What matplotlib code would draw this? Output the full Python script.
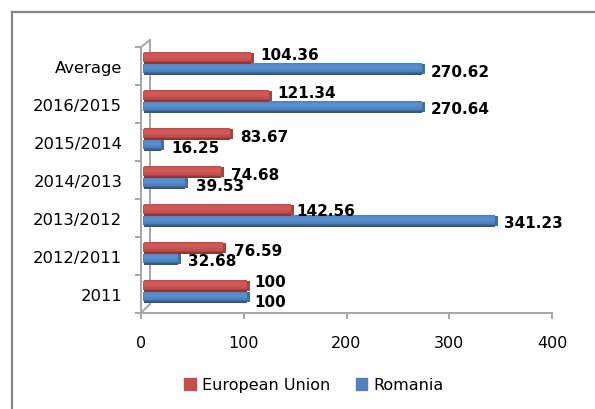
import matplotlib
matplotlib.use('Agg')
import matplotlib.pyplot as plt
from matplotlib.lines import Line2D
from matplotlib.patches import Patch
from matplotlib.colors import to_rgb
import numpy as np

categories = ['2011', '2012/2011', '2013/2012', '2014/2013', '2015/2014', '2016/2015', 'Average']
european_union = [100, 76.59, 142.56, 74.68, 83.67, 121.34, 104.36]
romania = [100, 32.68, 341.23, 39.53, 16.25, 270.64, 270.62]
x_ticks = [0, 100, 200, 300, 400]

W, H = 595, 410
GREY = '#a6a6a6'
RED = '#c0504d'
BLUE = '#4f81bd'

# label nudges in pixels (x from bar end, y downwards from bar centre)
eu_nudge = [(4, -4), (8, 3), (3, 1), (7, 3), (7, 3), (5, -3), (6, -3)]
ro_nudge = [(4, 5), (7, 2), (6, 2), (8, 3), (7, 3), (6, 2), (6, 3)]


def shades(base, dark):
    # top edge, bright middle, dark lower edge of the cylinder look
    c = np.array(to_rgb(base))
    d = np.array(to_rgb(dark))
    light = np.minimum(c * 1.1, 1)
    mid = (c + light) / 2
    return [c, mid, light, light, light, light, mid, c, c, (c + d) / 2, d]


def cylinder(ax, pos, vals, base, dark, nudges, start=3, cap=3, h=0.3):
    cols = shades(base, dark)
    n = len(cols)
    step = h / n
    ends = np.array(vals) + start
    # base bar first so no seams show through the strips
    ax.barh(pos, vals, height=h, left=start, color=base, linewidth=0, zorder=3)
    for i, col in enumerate(cols):
        y = pos + h / 2 - step * (i + 0.5)
        ax.barh(y, vals, height=step * 1.3, left=start, color=[col], linewidth=0, zorder=3 + i * 0.01)
    ax.barh(pos, cap, height=h * 0.85, left=ends, color=(np.array(to_rgb(base)) + to_rgb(dark)) / 2,
            linewidth=0, zorder=4)
    ax.barh(pos, start, height=h * 0.8, left=start - 1.5, color=base, linewidth=0, zorder=2)
    for p, v, nudge in zip(pos, ends + cap, nudges):
        ax.annotate(f'{v - start - cap:g}', (v, p), xytext=(nudge[0] * 0.72, -nudge[1] * 0.72),
                    textcoords='offset points', ha='left', va='center', fontsize=11,
                    fontweight='bold', color='black', zorder=6)


fig = plt.figure(figsize=(W / 100, H / 100), dpi=100, facecolor='white')
ax = fig.add_axes([141 / W, 1 - 314 / H, (552 - 141) / W, (314 - 48) / H])
ax.set_xlim(0, 400)
ax.set_ylim(0, len(categories))
ax.patch.set_visible(False)

centre = np.arange(len(categories)) + 0.5 + 0.074
cylinder(ax, centre + 0.145, european_union, RED, '#8c3836', eu_nudge)
cylinder(ax, centre - 0.145, romania, BLUE, '#34587f', ro_nudge)

for side in ['top', 'right']:
    ax.spines[side].set_visible(False)
for side in ['left', 'bottom']:
    ax.spines[side].set_color(GREY)
    ax.spines[side].set_linewidth(1.4)

ax.set_xticks(x_ticks)
ax.tick_params(axis='x', length=4, width=1.4, color=GREY, pad=12, labelsize=11.5, labelcolor='black')
ax.set_yticks(np.arange(len(categories) + 1))
ax.set_yticklabels([])
ax.tick_params(axis='y', which='major', length=4.5, width=1.4, color=GREY)
ax.set_yticks(np.arange(len(categories)) + 0.5, categories, minor=True)
ax.tick_params(axis='y', which='minor', length=0, pad=13.5, labelsize=11.8, labelcolor='black')

# 3d back wall of the old chart
dx = 9 / (552 - 141) * 400
dy = 9 / (314 - 48) * len(categories)
top = len(categories)
ax.plot([dx, dx], [dy, top + 7 / (314 - 48) * top], color=GREY, lw=1.4, clip_on=False, zorder=1)
ax.plot([0, dx], [0, dy], color=GREY, lw=1.4, clip_on=False, zorder=1)
ax.plot([0, dx], [top, top + 7 / (314 - 48) * top], color=GREY, lw=1.4, clip_on=False, zorder=1)

# outer frame, only left and top are inside the picture
fig.add_artist(Line2D([12 / W, 12 / W], [0, 1 - 13 / H], color='#868686', lw=1.6))
fig.add_artist(Line2D([12 / W, 1], [1 - 13 / H, 1 - 13 / H], color='#868686', lw=1.6))

handles = [Patch(color=RED, label='European Union'), Patch(color=BLUE, label='Romania')]
fig.legend(handles=handles, loc='center', bbox_to_anchor=(314 / W, 1 - 386 / H), ncol=2, frameon=False,
           fontsize=11.5, handlelength=0.7, handleheight=0.7, handletextpad=0.4, columnspacing=1.6)

fig.savefig('out.png', dpi=100)
